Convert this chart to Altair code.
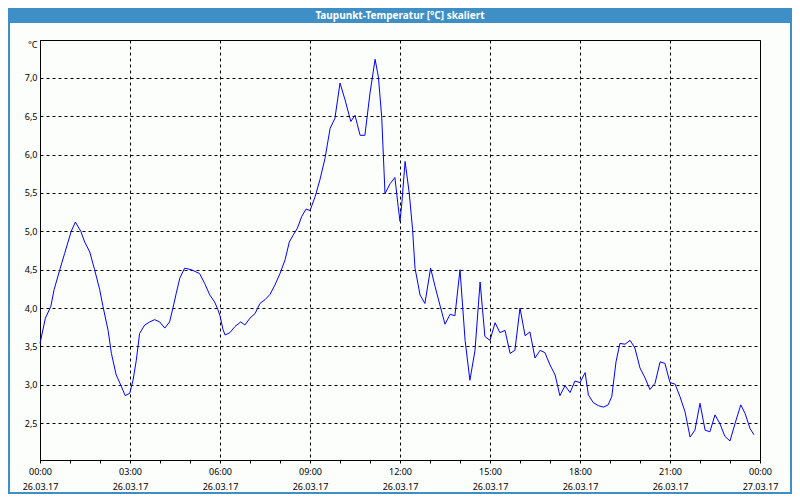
import altair as alt
import pandas as pd

TITLE = "Taupunkt-Temperatur [°C] skaliert"

# time in hours since 26.03.17 00:00
hours = [
    0.00, 0.18, 0.36, 0.47, 0.66, 0.82, 1.04, 1.18, 1.36, 1.49, 1.66, 1.82, 1.99,
    2.10, 2.27, 2.38, 2.54, 2.69, 2.84, 2.99, 3.10, 3.21, 3.32, 3.49, 3.66, 3.82,
    3.99, 4.16, 4.32, 4.43, 4.54, 4.66, 4.82, 5.04, 5.32, 5.49, 5.66, 5.82, 5.93,
    6.00, 6.10, 6.17, 6.33, 6.50, 6.69, 6.83, 7.00, 7.17, 7.33, 7.50, 7.67, 7.83,
    8.00, 8.17, 8.31, 8.44, 8.58, 8.72, 8.87, 9.00, 9.17, 9.33, 9.50, 9.67, 9.83,
    10.00, 10.17, 10.36, 10.50, 10.67, 10.83, 11.00, 11.17, 11.28, 11.39, 11.50,
    11.67, 11.83, 11.94, 12.00, 12.06, 12.17, 12.31, 12.42, 12.50, 12.67, 12.83,
    13.02, 13.17, 13.33, 13.50, 13.67, 13.83, 14.00, 14.17, 14.33, 14.50, 14.67,
    14.83, 15.00, 15.17, 15.33, 15.50, 15.67, 15.83, 16.00, 16.17, 16.33, 16.50,
    16.67, 16.83, 17.00, 17.17, 17.33, 17.50, 17.67, 17.83, 18.00, 18.17, 18.28,
    18.44, 18.61, 18.78, 18.94, 19.06, 19.20, 19.33, 19.50, 19.67, 19.83, 20.00,
    20.17, 20.33, 20.50, 20.67, 20.83, 21.00, 21.17, 21.33, 21.50, 21.67, 21.83,
    22.00, 22.17, 22.33, 22.50, 22.67, 22.83, 23.00, 23.17, 23.36, 23.50, 23.67,
    23.80,
]

dewpoint = [
    3.54, 3.87, 4.02, 4.24, 4.50, 4.71, 5.00, 5.12, 5.00, 4.86, 4.73, 4.50, 4.24,
    4.02, 3.71, 3.41, 3.13, 3.00, 2.86, 2.89, 3.06, 3.32, 3.67, 3.78, 3.82, 3.85,
    3.82, 3.74, 3.82, 4.00, 4.19, 4.39, 4.52, 4.50, 4.45, 4.32, 4.17, 4.08, 3.98,
    3.90, 3.72, 3.65, 3.68, 3.76, 3.82, 3.78, 3.87, 3.93, 4.06, 4.11, 4.18, 4.30,
    4.45, 4.63, 4.86, 4.95, 5.04, 5.19, 5.29, 5.27, 5.45, 5.67, 5.95, 6.34, 6.47,
    6.93, 6.71, 6.43, 6.51, 6.25, 6.25, 6.80, 7.24, 7.01, 6.49, 5.49,
    5.62, 5.70, 5.32, 5.13, 5.36, 5.91, 5.49, 5.02, 4.52, 4.17, 4.06,
    4.52, 4.28, 4.04, 3.79, 3.92, 3.90, 4.50, 3.58, 3.06, 3.45, 4.34,
    3.63, 3.58, 3.81, 3.68, 3.71, 3.41, 3.45, 4.00, 3.64, 3.69, 3.35,
    3.45, 3.42, 3.26, 3.13, 2.86, 2.99, 2.90, 3.05, 3.03, 3.16, 2.87,
    2.77, 2.73, 2.71, 2.74, 2.85, 3.30, 3.54, 3.53, 3.58, 3.48, 3.22,
    3.09, 2.94, 3.02, 3.30, 3.28, 3.03, 3.01, 2.85, 2.65, 2.32, 2.41,
    2.76, 2.41, 2.39, 2.61, 2.49, 2.33, 2.27, 2.50, 2.74, 2.63, 2.43,
    2.35,
]

y_ticks = [2.5, 3.0, 3.5, 4.0, 4.5, 5.0, 5.5, 6.0, 6.5, 7.0]
x_ticks = list(range(0, 25))
day1 = "26.03.17"
day2 = "27.03.17"

df = pd.DataFrame({"h": hours, "t": dewpoint})

FONT = "Noto Sans"
W, H = 720, 420

x_label_expr = (
    "datum.value % 3 != 0 ? '' : ["
    "(datum.value % 24 < 10 ? '0' : '') + (datum.value % 24) + ':00', "
    f"datum.value == 24 ? '{day2}' : '{day1}']"
)

line = alt.Chart(df).mark_line(color="#0000ff", strokeWidth=1).encode(
    x=alt.X(
        "h:Q",
        scale=alt.Scale(domain=[0, 24], nice=False, zero=False),
        axis=alt.Axis(
            values=x_ticks,
            title=None,
            labelExpr=x_label_expr,
            labelOverlap=False,
            labelFlush=False,
            labelBound=False,
            labelPadding=4,
            labelLineHeight=15,
            labelBaseline="top",
            tickSize=3,
            tickColor="black",
            domainColor="black",
            grid=True,
            gridColor="black",
            gridDash=[3, 3],
            gridOpacity={"condition": {"test": "datum.value % 3 == 0", "value": 1}, "value": 0},
        ),
    ),
    y=alt.Y(
        "t:Q",
        scale=alt.Scale(domain=[2.022, 7.491], nice=False, zero=False),
        axis=alt.Axis(
            values=y_ticks,
            title="°C",
            titleAngle=0,
            titleX=-3,
            titleY=4,
            titleAlign="right",
            titleBaseline="middle",
            titleFont=FONT,
            titleFontSize=9,
            titleFontWeight="normal",
            titleColor="black",
            labelExpr="replace(format(datum.value, '.1f'), '.', ',')",
            labelPadding=3,
            ticks=False,
            domainColor="black",
            grid=True,
            gridColor="black",
            gridDash=[3, 3],
        ),
    ),
)

one = alt.Data(values=[{"k": 1}])

bar = alt.Chart(one).mark_rect(color="#3d8fc6").encode(
    x=alt.value(-32), x2=alt.value(W + 32), y=alt.value(-32), y2=alt.value(-17)
)
title_text = alt.Chart(one).mark_text(
    text=TITLE, font=FONT, fontSize=10, fontWeight="bold", color="white",
    align="center", baseline="middle",
).encode(x=alt.value(W / 2), y=alt.value(-24.5))

frame = alt.Chart(one).mark_rect(
    fillOpacity=0, stroke="#3d8fc6", strokeWidth=2
).encode(
    x=alt.value(-31), x2=alt.value(W + 31), y=alt.value(-32), y2=alt.value(H + 33)
)

chart = alt.layer(bar, title_text, frame, line).properties(
    width=W,
    height=H,
    autosize=alt.AutoSizeParams(type="none"),
    padding={"left": 32, "top": 32, "right": 32, "bottom": 34},
    background="#fcfefc",
).configure_view(
    stroke="black", strokeWidth=1
).configure_axis(
    labelFont=FONT, labelFontSize=9, labelColor="black"
)

chart.save("out.html", embed_options={"renderer": "svg", "actions": False})
